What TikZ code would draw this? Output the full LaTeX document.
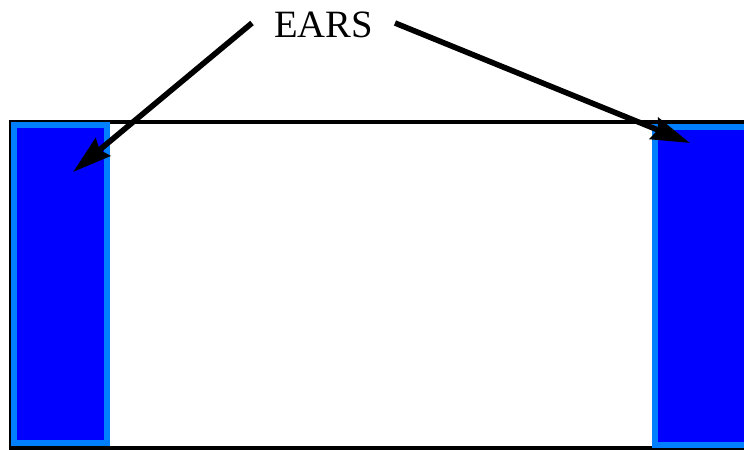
\documentclass[tikz,border=0pt]{standalone}
\usepackage{fontspec}
\setmainfont{Liberation Serif}
\usetikzlibrary{arrows.meta}
\definecolor{earedge}{RGB}{0,128,255}
\definecolor{earfill}{RGB}{0,0,255}
\tikzset{
  frame/.style={draw=black, line width=3.2pt},
  ear/.style={draw=earedge, fill=earfill, line width=4.5pt},
  pointer/.style={draw=black, line width=4.2pt, -{Stealth[length=29pt,width=17pt,inset=3pt]}},
}
\begin{document}
\begin{tikzpicture}[x=0.75pt,y=-0.75pt]
\useasboundingbox (0,0) rectangle (744,450);
\draw[frame] (11,122) rectangle (760,448);
\draw[ear] (14,125) rectangle (107,443);
\draw[ear] (655,127) rectangle (760,445);
\coordinate (leftear) at (73,172);
\coordinate (rightear) at (690,143);
\node[anchor=base, font=\fontsize{29}{32}\selectfont, inner sep=0pt] (label) at (323.5,37) {EARS};
\coordinate (ls) at (252,23);
\coordinate (rs) at (395,23);
\draw[pointer] (ls) -- (leftear);
\draw[pointer] (rs) -- (rightear);
\end{tikzpicture}
\end{document}
